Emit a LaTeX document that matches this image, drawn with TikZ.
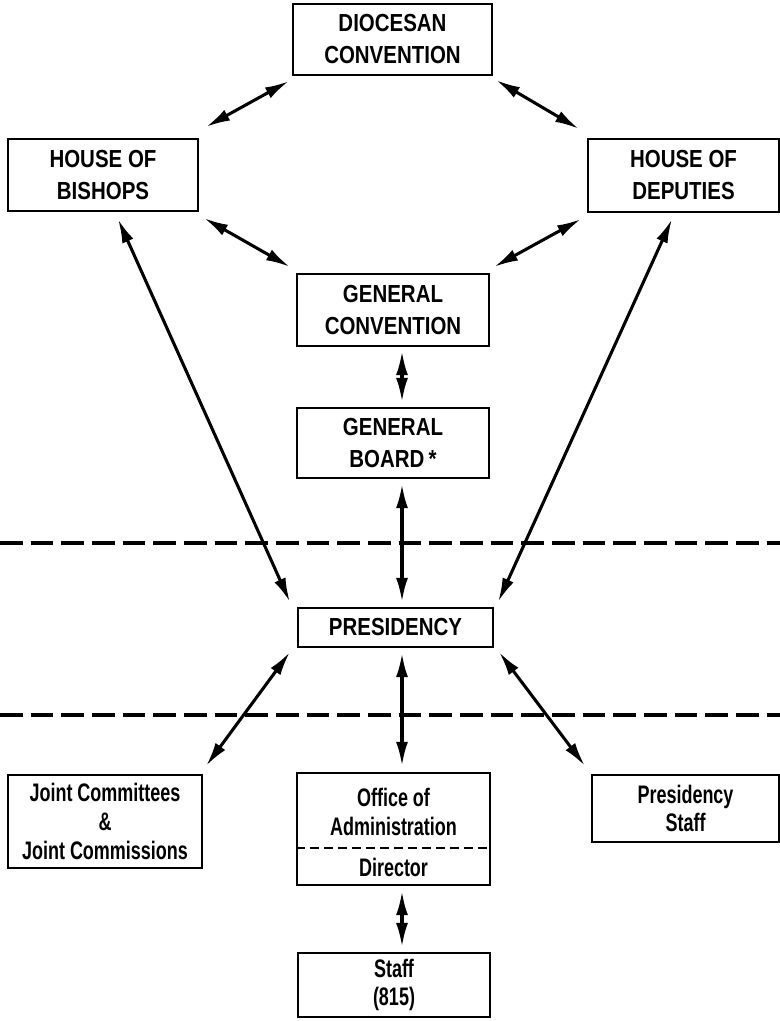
\documentclass[tikz,border=0pt]{standalone}
\usepackage{fontspec}
\setmainfont{Liberation Sans}[FakeStretch=0.88]
\newfontfamily\upfont{Liberation Sans Bold}[FakeStretch=0.83]
\newfontfamily\condfont{Liberation Sans Bold}[FakeStretch=0.71]
\usetikzlibrary{arrows.meta,calc}
\begin{document}
\begin{tikzpicture}[x=0.75pt,y=-0.75pt,
  box/.style={draw,line width=1.7pt,inner sep=0pt,align=center,
    font=\upfont\fontsize{18.5}{24}\selectfont},
  lowbox/.style={draw,line width=1.7pt,inner sep=0pt,align=center,
    font=\condfont\fontsize{19}{21.5}\selectfont},
  lowtext/.style={inner sep=0pt,align=center,
    font=\condfont\fontsize{19}{21.5}\selectfont},
  arr/.style={line width=2.3pt,{Latex[length=18pt,width=9pt]}-{Latex[length=18pt,width=9pt]}},
  sep/.style={line width=2.6pt,dash pattern=on 17pt off 6pt},
  divider/.style={line width=1.7pt,dash pattern=on 7pt off 3.5pt}]
\useasboundingbox (0,0) rectangle (780,1021);
% boxes
\node[box,minimum width=199*0.75pt,minimum height=71*0.75pt] (dc) at (392.5,39.5) {DIOCESAN\\CONVENTION};
\node[box,minimum width=190*0.75pt,minimum height=72*0.75pt] (hb) at (103,175) {HOUSE OF\\BISHOPS};
\node[box,minimum width=191*0.75pt,minimum height=73*0.75pt] (hd) at (683.5,175.5) {HOUSE OF\\DEPUTIES};
\node[box,minimum width=192*0.75pt,minimum height=72*0.75pt] (gc) at (393,310) {GENERAL\\CONVENTION};
\node[box,minimum width=192*0.75pt,minimum height=70*0.75pt] (gb) at (393,443) {GENERAL\\BOARD\,*};
\node[box,minimum width=195*0.75pt,minimum height=39*0.75pt] (pr) at (395.5,627.5) {PRESIDENCY};
\node[lowbox,minimum width=194*0.75pt,minimum height=93*0.75pt] (jc) at (105,821.5) {Joint Committees\\\&\\Joint Commissions};
\node[lowbox,minimum width=193*0.75pt,minimum height=112*0.75pt] (oa) at (393.5,829) {};
\node[lowtext] (oat) at (393.5,812) {Office of\\Administration};
\node[lowtext] (dir) at (393.5,867) {Director};
\node[lowbox,minimum width=187*0.75pt,minimum height=67*0.75pt] (ps) at (685.5,808.5) {Presidency\\Staff};
\node[lowbox,minimum width=192*0.75pt,minimum height=64*0.75pt] (st) at (394,985) {Staff\\(815)};
% divider in office box
\coordinate (divy) at (0,848);
\draw[divider] (oa.west |- divy) -- (oa.east |- divy);
% horizontal separators
\coordinate (s1l) at (0,543); \coordinate (s1r) at (780,543);
\coordinate (s2l) at (0,715); \coordinate (s2r) at (780,715);
\draw[sep] (s1l) -- (s1r);
\draw[sep] (s2l) -- (s2r);
% arrows
\draw[arr] ($(dc.south west)+(-3,5)$) -- ($(hb.north east)+(7,-11)$);
\draw[arr] ($(dc.south east)+(3,4)$) -- ($(hd.north west)+(-8,-9)$);
\draw[arr] ($(hb.south east)+(5,6)$) -- ($(gc.north west)+(-6,-6)$);
\draw[arr] ($(hd.south west)+(-6,6)$) -- ($(gc.north east)+(4,-6)$);
\draw[arr] ($(gc.south)+(9,4)$) -- ($(gb.north)+(9,-5)$);
\draw[arr] ($(gb.south)+(9,5)$) -- ($(pr.north)+(6.5,-5)$);
\draw[arr] ($(hb.south)+(15,7)$) -- ($(pr.north west)+(-7,-5)$);
\draw[arr] ($(hd.south)+(-11.5,6)$) -- ($(pr.north east)+(4,-5)$);
\draw[arr] ($(pr.south west)+(-7,4)$) -- ($(jc.north east)+(3,-8)$);
\draw[arr] ($(pr.south)+(6.5,5)$) -- ($(oa.north)+(8.5,-6)$);
\draw[arr] ($(pr.south east)+(5,4)$) -- ($(ps.north west)+(-6,-8)$);
\draw[arr] ($(oa.south)+(8.5,5)$) -- ($(st.north)+(8,-5)$);
\end{tikzpicture}
\end{document}
